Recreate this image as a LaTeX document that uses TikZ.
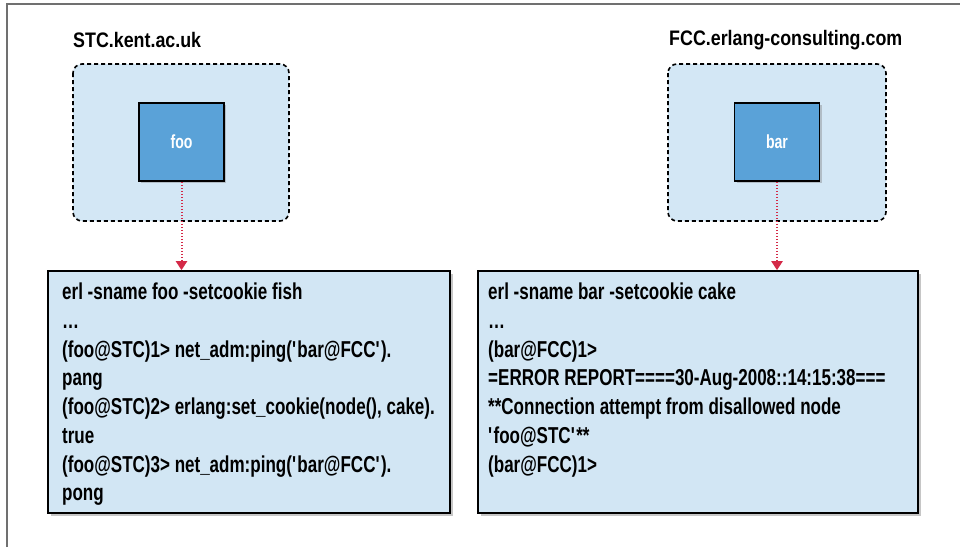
\documentclass[tikz,border=0pt]{standalone}
\usepackage{fontspec}
\setmainfont{Liberation Sans}[FakeStretch=0.74]
\newfontfamily\hdrfont{Liberation Sans}[FakeStretch=0.85]
\usetikzlibrary{shadows,arrows.meta}
\definecolor{hostfill}{HTML}{D3E7F5}
\definecolor{procfill}{HTML}{5AA2D8}
\definecolor{termfill}{HTML}{D2E6F4}
\definecolor{arrred}{HTML}{D42A48}
\definecolor{framegray}{HTML}{707070}
\newcommand{\sq}{\textquotesingle}
\tikzset{
  host/.style={draw=black, line width=1.6pt, dash pattern=on 4pt off 3pt, rounded corners=9pt, fill=hostfill},
  proc/.style={draw=black, line width=1.6pt, fill=procfill, drop shadow={shadow xshift=2pt, shadow yshift=-2pt, opacity=0.4},
    minimum width=85pt, minimum height=78pt, inner sep=0pt, text=white, font=\bfseries\fontsize{19}{19}\selectfont},
  term/.style={draw=black, line width=1.6pt, fill=termfill, drop shadow={shadow xshift=3pt, shadow yshift=-3pt, opacity=0.45}},
  hostlabel/.style={anchor=west, inner sep=0pt, font=\hdrfont\bfseries\fontsize{21}{21}\selectfont},
  termtext/.style={anchor=north west, inner sep=0pt, align=left, font=\bfseries\fontsize{23}{28.7}\selectfont},
  link/.style={draw=arrred, line width=2pt, dash pattern=on 1.5pt off 1.5pt, -{Triangle[width=11pt,length=9pt]}}
}
\begin{document}
\begin{tikzpicture}[x=1pt,y=-1pt]
\useasboundingbox (0,0) rectangle (960,547);
% outer frame
\draw[framegray, line width=1.2pt] (7,547) -- (7,4) -- (960,4);
% hosts
\node[hostlabel] (stclabel) at (73,40) {STC.kent.ac.uk};
\node[hostlabel] (fcclabel) at (669,40) {FCC.erlang-consulting.com};
\draw[host] (73,64) rectangle (289,221);
\draw[host] (668,64) rectangle (886,221);
\node[proc] (foo) at (181.5,142) {foo};
\node[proc] (bar) at (777,142) {bar};
% terminals
\node[term, minimum width=402pt, minimum height=242pt, inner sep=0pt] (tl) at (249,392) {};
\node[term, minimum width=440pt, minimum height=242pt, inner sep=0pt] (tr) at (698,392) {};
\node[termtext] (tltext) at (62,283) {erl -sname foo -setcookie fish\\
\ldots\\
(foo@STC)1> net\_adm:ping(\sq bar@FCC\sq).\\
pang\\
(foo@STC)2> erlang:set\_cookie(node(), cake).\\
true\\
(foo@STC)3> net\_adm:ping(\sq bar@FCC\sq).\\
pong};
\node[termtext] (trtext) at (488,283) {erl -sname bar -setcookie cake\\
\ldots\\
(bar@FCC)1>\\
=ERROR REPORT====30-Aug-2008::14:15:38===\\
**Connection attempt from disallowed node\\
\sq foo@STC\sq **\\
(bar@FCC)1>};
% links
\draw[link] (foo.south) -- (tl.north -| foo.south);
\draw[link] (bar.south) -- (tr.north -| bar.south);
\end{tikzpicture}
\end{document}
